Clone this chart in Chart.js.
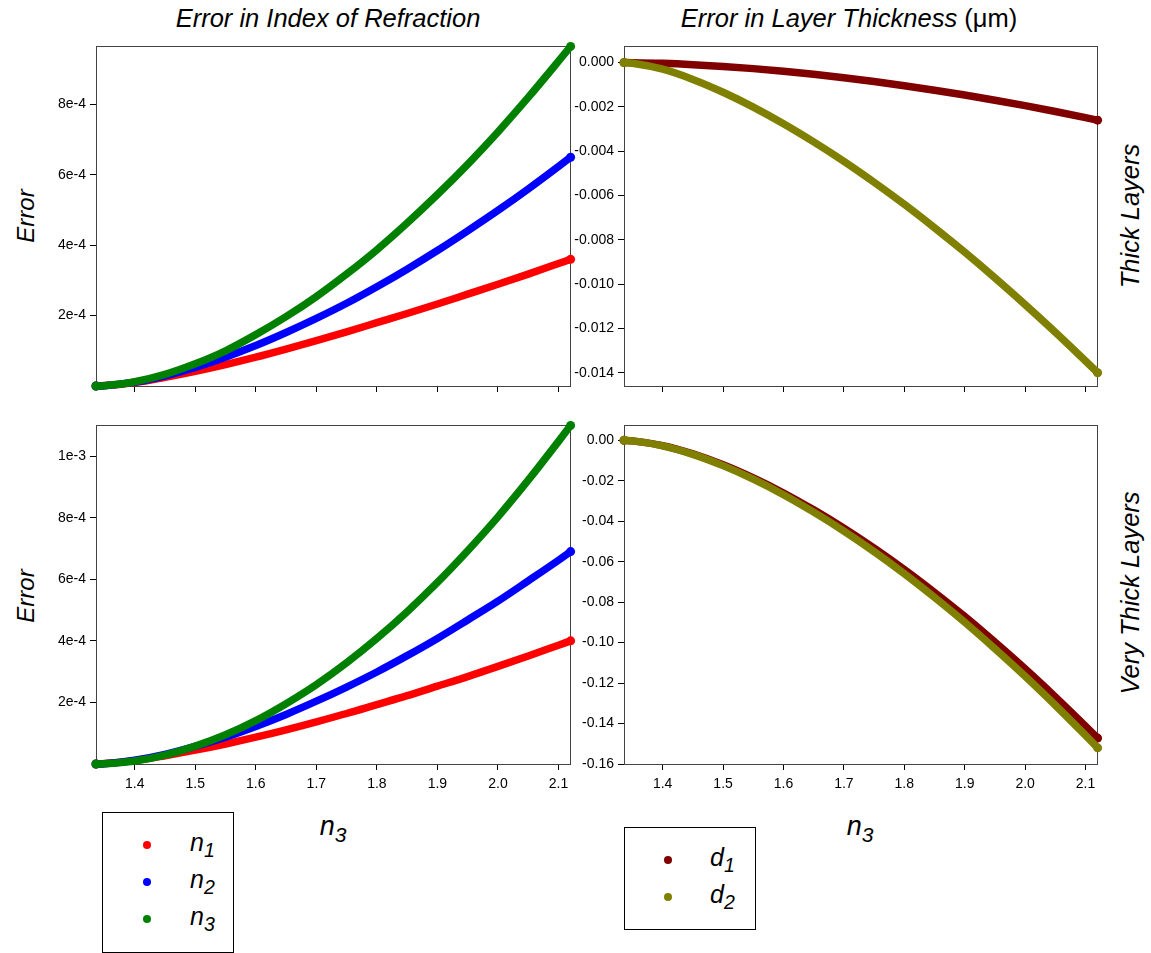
<!DOCTYPE html>
<html><head><meta charset="utf-8">
<script src="https://cdn.jsdelivr.net/npm/chart.js@4.4.0/dist/chart.umd.min.js"></script>
<style>
html,body{margin:0;padding:0}
body{width:1151px;height:953px;background:#fff;position:relative;overflow:hidden;font-family:"Liberation Sans",Arial,sans-serif;color:#000}
.cw{position:absolute}
.t{position:absolute;white-space:nowrap;font-style:italic;transform:translate(-50%,-50%);line-height:1}
.r{transform:translate(-50%,-50%) rotate(-90deg)}
.sub{font-size:78%;position:relative;top:0.32em}
.lg{position:absolute;border:1px solid #000;background:#fff;box-sizing:border-box}
.dot{position:absolute;width:8px;height:8px;border-radius:50%;transform:translate(-50%,-50%)}
.ll{position:absolute;font-style:italic;font-size:25px;line-height:1;transform:translateY(-62%)}
</style></head><body>

<div class="t" style="left:328px;top:19px;font-size:25.5px">Error in Index of Refraction</div>
<div class="t" style="left:849px;top:19px;font-size:25.5px">Error in Layer Thickness <span style="font-style:normal">(μm)</span></div>
<div class="t r" style="left:26px;top:216px;font-size:24px">Error</div>
<div class="t r" style="left:26px;top:596px;font-size:24px">Error</div>
<div class="t r" style="left:1131px;top:216px;font-size:25.5px">Thick Layers</div>
<div class="t r" style="left:1131px;top:593px;font-size:25.5px">Very Thick Layers</div>
<div class="t" style="left:333px;top:826px;font-size:27px">n<span class="sub">3</span></div>
<div class="t" style="left:860px;top:826px;font-size:27px">n<span class="sub">3</span></div>

<div class="cw" style="left:26px;top:34px;width:558px;height:384px"><canvas id="c1" width="558" height="384"></canvas></div>
<div class="cw" style="left:554px;top:34px;width:557px;height:384px"><canvas id="c2" width="557" height="384"></canvas></div>
<div class="cw" style="left:26px;top:413px;width:558px;height:383px"><canvas id="c3" width="558" height="383"></canvas></div>
<div class="cw" style="left:554px;top:413px;width:557px;height:383px"><canvas id="c4" width="557" height="383"></canvas></div>

<div class="lg" style="left:102px;top:812px;width:132px;height:141px">
  <div class="dot" style="left:44px;top:32px;background:#ff0000"></div>
  <div class="dot" style="left:44px;top:69px;background:#0000ff"></div>
  <div class="dot" style="left:44px;top:106px;background:#008000"></div>
  <div class="ll" style="left:87px;top:32px">n<span class="sub">1</span></div>
  <div class="ll" style="left:87px;top:69px">n<span class="sub">2</span></div>
  <div class="ll" style="left:87px;top:106px">n<span class="sub">3</span></div>
</div>
<div class="lg" style="left:624px;top:827px;width:132px;height:103px">
  <div class="dot" style="left:43px;top:32px;background:#800000"></div>
  <div class="dot" style="left:43px;top:69px;background:#808000"></div>
  <div class="ll" style="left:85px;top:32px">d<span class="sub">1</span></div>
  <div class="ll" style="left:85px;top:69px">d<span class="sub">2</span></div>
</div>

<script>
// ---- data ----
const n3Values = [1.336, 1.35, 1.40, 1.45, 1.50, 1.55, 1.60, 1.65, 1.70, 1.75, 1.80, 1.85, 1.90, 1.95, 2.00, 2.05, 2.10, 2.12];

// Thick layers: error in refractive index
const thickN1 = [0, 1.2e-6, 1.0e-5, 2.5e-5, 4.2e-5, 6.1e-5, 8.2e-5, 1.05e-4, 1.29e-4, 1.54e-4, 1.80e-4, 2.06e-4, 2.33e-4, 2.61e-4, 2.89e-4, 3.18e-4, 3.48e-4, 3.60e-4];
const thickN2 = [0, 1.0e-6, 1.1e-5, 2.9e-5, 5.3e-5, 8.2e-5, 1.15e-4, 1.52e-4, 1.92e-4, 2.35e-4, 2.82e-4, 3.32e-4, 3.85e-4, 4.41e-4, 4.99e-4, 5.60e-4, 6.24e-4, 6.50e-4];
const thickN3 = [0, 1.0e-6, 1.2e-5, 3.3e-5, 6.3e-5, 1.00e-4, 1.46e-4, 1.97e-4, 2.54e-4, 3.18e-4, 3.87e-4, 4.63e-4, 5.44e-4, 6.30e-4, 7.22e-4, 8.20e-4, 9.23e-4, 9.65e-4];
// Thick layers: error in thickness (um)
const thickD1 = [0, -3.2e-6, -3.5e-5, -9.3e-5, -1.73e-4, -2.73e-4, -3.92e-4, -5.30e-4, -6.84e-4, -8.56e-4, -1.043e-3, -1.247e-3, -1.465e-3, -1.698e-3, -1.946e-3, -2.209e-3, -2.486e-3, -2.60e-3];
const thickD2 = [0, -3.0e-5, -3.00e-4, -7.60e-4, -1.340e-3, -2.010e-3, -2.760e-3, -3.580e-3, -4.458e-3, -5.401e-3, -6.398e-3, -7.456e-3, -8.560e-3, -9.719e-3, -1.0926e-2, -1.2174e-2, -1.3471e-2, -1.40e-2];

// Very thick layers: error in refractive index
const vthickN1 = [0, 1.4e-6, 1.1e-5, 2.7e-5, 4.5e-5, 6.5e-5, 8.7e-5, 1.11e-4, 1.37e-4, 1.64e-4, 1.93e-4, 2.22e-4, 2.53e-4, 2.84e-4, 3.17e-4, 3.51e-4, 3.86e-4, 4.00e-4];
const vthickN2 = [0, 1.1e-6, 1.2e-5, 3.1e-5, 5.7e-5, 8.7e-5, 1.22e-4, 1.61e-4, 2.04e-4, 2.50e-4, 2.99e-4, 3.52e-4, 4.08e-4, 4.68e-4, 5.29e-4, 5.95e-4, 6.62e-4, 6.90e-4];
const vthickN3 = [0, 7.5e-7, 1.0e-5, 2.9e-5, 5.8e-5, 9.5e-5, 1.41e-4, 1.96e-4, 2.58e-4, 3.29e-4, 4.08e-4, 4.95e-4, 5.90e-4, 6.93e-4, 8.03e-4, 9.22e-4, 1.048e-3, 1.10e-3];
// Very thick layers: error in thickness (um)
const vthickD1 = [0, -2.4e-4, -2.60e-3, -6.70e-3, -1.210e-2, -1.860e-2, -2.600e-2, -3.435e-2, -4.342e-2, -5.329e-2, -6.386e-2, -7.518e-2, -8.708e-2, -9.976e-2, -1.1295e-1, -1.2683e-1, -1.4128e-1, -1.472e-1];
const vthickD2 = [0, -2.5e-4, -2.70e-3, -6.90e-3, -1.250e-2, -1.920e-2, -2.685e-2, -3.547e-2, -4.484e-2, -5.502e-2, -6.594e-2, -7.763e-2, -8.992e-2, -1.0301e-1, -1.1663e-1, -1.3096e-1, -1.4589e-1, -1.52e-1];

// ---- ticks ----
const xTicks = [1.4, 1.5, 1.6, 1.7, 1.8, 1.9, 2.0, 2.1];
const xTickLabels = ['1.4', '1.5', '1.6', '1.7', '1.8', '1.9', '2.0', '2.1'];
const yTicksThickN = [2e-4, 4e-4, 6e-4, 8e-4];
const yLabelsThickN = ['2e-4', '4e-4', '6e-4', '8e-4'];
const yTicksVThickN = [2e-4, 4e-4, 6e-4, 8e-4, 1e-3];
const yLabelsVThickN = ['2e-4', '4e-4', '6e-4', '8e-4', '1e-3'];
const yTicksThickD = [0, -0.002, -0.004, -0.006, -0.008, -0.010, -0.012, -0.014];
const yLabelsThickD = ['0.000', '-0.002', '-0.004', '-0.006', '-0.008', '-0.010', '-0.012', '-0.014'];
const yTicksVThickD = [0, -0.02, -0.04, -0.06, -0.08, -0.10, -0.12, -0.14, -0.16];
const yLabelsVThickD = ['0.00', '-0.02', '-0.04', '-0.06', '-0.08', '-0.10', '-0.12', '-0.14', '-0.16'];

const COL = {n1: '#ff0000', n2: '#0000ff', n3: '#008000', d1: '#800000', d2: '#808000'};

Chart.defaults.font.family = '"Liberation Sans", Arial, sans-serif';
Chart.defaults.font.size = 14;
Chart.defaults.color = '#000';

const framePlugin = {
  id: 'frame',
  beforeDatasetsDraw(chart) {
    const a = chart.chartArea, ctx = chart.ctx;
    ctx.save();
    ctx.strokeStyle = '#444';
    ctx.lineWidth = 1;
    ctx.strokeRect(Math.round(a.left) + 0.5, Math.round(a.top) + 0.5, Math.round(a.right - a.left), Math.round(a.bottom - a.top));
    ctx.restore();
  }
};

function series(ys, color, order) {
  const last = ys.length - 1;
  return {
    data: n3Values.map((x, i) => ({x: x, y: ys[i]})),
    showLine: true,
    borderColor: color,
    backgroundColor: color,
    borderWidth: 7.5,
    borderCapStyle: 'round',
    pointRadius: ctx => (ctx.dataIndex === 0 || ctx.dataIndex === last) ? 4.5 : 0,
    pointBorderWidth: 0,
    pointHoverRadius: 0,
    cubicInterpolationMode: 'monotone',
    clip: false,
    order: order
  };
}

function makeChart(id, datasets, ymin, ymax, yTicks, yLabels, showXLabels) {
  return new Chart(document.getElementById(id), {
    type: 'scatter',
    data: {datasets: datasets},
    plugins: [framePlugin],
    options: {
      responsive: false,
      animation: false,
      events: [],
      layout: {padding: {left: 0, right: 14, top: 12, bottom: 0}},
      plugins: {legend: {display: false}, tooltip: {enabled: false}},
      scales: {
        x: {
          type: 'linear', min: 1.336, max: 2.119,
          afterBuildTicks: s => { s.ticks = xTicks.map(v => ({value: v})); },
          afterFit: s => { s.height = 32; },
          grid: {display: true, drawOnChartArea: false, drawTicks: true, tickLength: 6, color: '#000'},
          border: {display: true, color: '#000', width: 1},
          ticks: {padding: 6, maxRotation: 0, autoSkip: false,
                  callback: (v, i) => showXLabels ? xTickLabels[i] : ''}
        },
        y: {
          type: 'linear', min: ymin, max: ymax,
          afterBuildTicks: s => { s.ticks = yTicks.map(v => ({value: v})); },
          afterFit: s => { s.width = 70; },
          grid: {display: true, drawOnChartArea: false, drawTicks: true, tickLength: 6, color: '#000'},
          border: {display: true, color: '#000', width: 1},
          ticks: {padding: 4, autoSkip: false, callback: (v, i) => yLabels[i]}
        }
      }
    }
  });
}

makeChart('c1', [series(thickN1, COL.n1, 3), series(thickN2, COL.n2, 2), series(thickN3, COL.n3, 1)],
  0, 9.65e-4, yTicksThickN, yLabelsThickN, false);
makeChart('c2', [series(thickD1, COL.d1, 2), series(thickD2, COL.d2, 1)],
  -0.0146, 0.00073, yTicksThickD, yLabelsThickD, false);
makeChart('c3', [series(vthickN1, COL.n1, 3), series(vthickN2, COL.n2, 2), series(vthickN3, COL.n3, 1)],
  0, 1.1e-3, yTicksVThickN, yLabelsVThickN, true);
makeChart('c4', [series(vthickD1, COL.d1, 2), series(vthickD2, COL.d2, 1)],
  -0.16, 0.0074, yTicksVThickD, yLabelsVThickD, true);
</script>
</body></html>
